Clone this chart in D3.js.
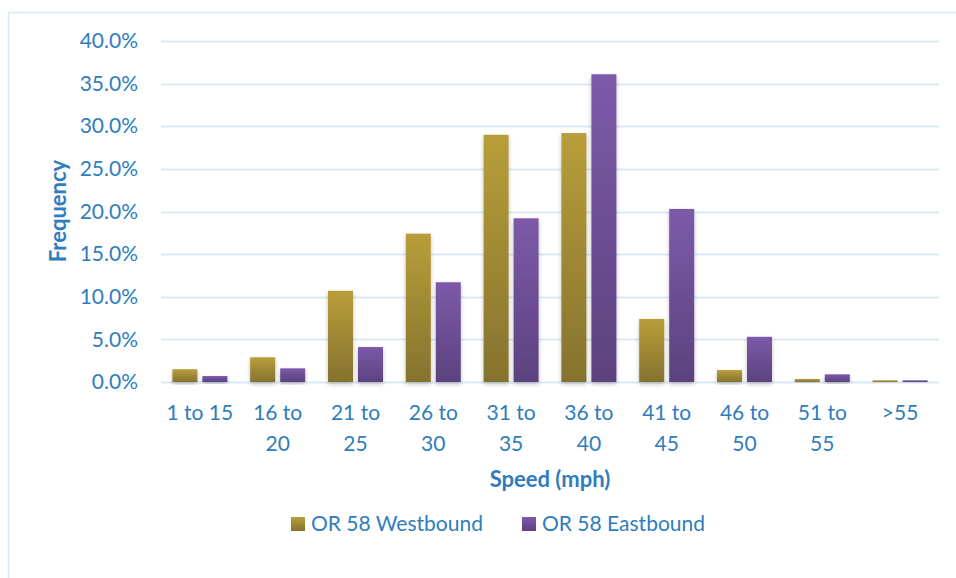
<!DOCTYPE html>
<html>
<head>
<meta charset="utf-8">
<script src="https://cdn.jsdelivr.net/npm/d3@7"></script>
<style>
  body { margin: 0; background: #fff; }
  text { font-family: Lato, "Open Sans", sans-serif; }
</style>
</head>
<body>
<div id="chart"></div>
<script>
// Speed bins and the share of vehicles in each
const categories = ["1 to 15", "16 to 20", "21 to 25", "26 to 30", "31 to 35", "36 to 40", "41 to 45", "46 to 50", "51 to 55", ">55"];
const westbound = [1.5, 2.9, 10.7, 17.4, 29.0, 29.2, 7.4, 1.4, 0.35, 0.2];
const eastbound = [0.7, 1.6, 4.1, 11.7, 19.2, 36.1, 20.3, 5.3, 0.9, 0.2];
const seriesNames = ["OR 58 Westbound", "OR 58 Eastbound"];
const yTicks = [0, 5, 10, 15, 20, 25, 30, 35, 40];

const width = 956, height = 578;
const textColor = "#2f7dbd";
const fontSize = "21px";

const svg = d3.select("#chart").append("svg")
    .attr("width", width)
    .attr("height", height);

const defs = svg.append("defs");

// vertical gradients like the Office bars
function addGradient(id, top, bottom) {
    const g = defs.append("linearGradient")
        .attr("id", id)
        .attr("x1", 0).attr("y1", 0).attr("x2", 0).attr("y2", 1);
    g.append("stop").attr("offset", "0%").attr("stop-color", top);
    g.append("stop").attr("offset", "100%").attr("stop-color", bottom);
}
addGradient("gradWest", "#b89e3a", "#85722e");
addGradient("gradEast", "#7c5aa9", "#5c427e");

const shadow = defs.append("filter")
    .attr("id", "shadow")
    .attr("x", "-30%").attr("y", "-10%").attr("width", "160%").attr("height", "130%");
shadow.append("feDropShadow")
    .attr("dx", 0).attr("dy", 2)
    .attr("stdDeviation", 2)
    .attr("flood-color", "#000")
    .attr("flood-opacity", 0.25);

// chart border
svg.append("rect")
    .attr("x", 8.5).attr("y", 12.5)
    .attr("width", 960).attr("height", 600)
    .attr("fill", "none")
    .attr("stroke", "#dbe8f5")
    .attr("stroke-width", 1.5);

const plot = { left: 161, right: 939, top: 41, bottom: 382 };

const x = d3.scaleBand()
    .domain(categories)
    .range([plot.left, plot.right]);

const y = d3.scaleLinear()
    .domain([0, 40])
    .range([plot.bottom, plot.top]);

const xInner = d3.scaleBand()
    .domain(seriesNames)
    .range([0, x.bandwidth()])
    .paddingInner(0.167)
    .paddingOuter(0.38);

// gridlines
svg.append("g")
    .selectAll("line")
    .data(yTicks)
    .join("line")
    .attr("x1", plot.left)
    .attr("x2", plot.right)
    .attr("y1", d => Math.round(y(d)) + 0.5)
    .attr("y2", d => Math.round(y(d)) + 0.5)
    .attr("stroke", "#dce9f6")
    .attr("stroke-width", 2);

// y axis labels
const yAxis = svg.append("g")
    .attr("transform", `translate(${plot.left - 15},0)`)
    .call(d3.axisLeft(y).tickValues(yTicks).tickFormat(d => d.toFixed(1) + "%").tickSize(0).tickPadding(8));
yAxis.select(".domain").remove();
yAxis.selectAll("text")
    .attr("fill", textColor)
    .style("font-size", fontSize)
    .style("font-family", "Lato, 'Open Sans', sans-serif");

// bars
const rows = categories.map((c, i) => ({ cat: c, values: [westbound[i], eastbound[i]] }));
const groups = svg.append("g")
    .selectAll("g")
    .data(rows)
    .join("g")
    .attr("transform", d => `translate(${x(d.cat)},0)`);

groups.selectAll("rect")
    .data(d => d.values.map((v, j) => ({ name: seriesNames[j], value: v, j })))
    .join("rect")
    .attr("x", d => xInner(d.name))
    .attr("width", xInner.bandwidth())
    .attr("y", d => y(d.value))
    .attr("height", d => y(0) - y(d.value))
    .attr("fill", d => d.j === 0 ? "url(#gradWest)" : "url(#gradEast)")
    .attr("filter", "url(#shadow)");

// x axis labels (wrapped onto two lines)
const xAxis = svg.append("g")
    .attr("transform", `translate(0,${plot.bottom})`)
    .call(d3.axisBottom(x).tickSize(0).tickPadding(0));
xAxis.select(".domain").remove();
xAxis.selectAll("text").remove();
xAxis.selectAll(".tick").each(function(d) {
    const t = d3.select(this).append("text")
        .attr("fill", textColor)
        .attr("text-anchor", "middle")
        .style("font-size", fontSize);
    const parts = d.split(" to ");
    if (parts.length === 2 && d !== "1 to 15") {
        t.append("tspan").attr("x", 0).attr("y", 38).text(parts[0] + " to");
        t.append("tspan").attr("x", 0).attr("y", 69).text(parts[1]);
    } else {
        t.append("tspan").attr("x", 0).attr("y", 38).text(d);
    }
});

// axis titles
svg.append("text")
    .attr("x", (plot.left + plot.right) / 2)
    .attr("y", 487)
    .attr("text-anchor", "middle")
    .attr("fill", textColor)
    .style("font-size", "22px")
    .style("font-weight", "bold")
    .text("Speed (mph)");

svg.append("text")
    .attr("transform", "translate(66,211) rotate(-90)")
    .attr("text-anchor", "middle")
    .attr("fill", textColor)
    .style("font-size", "22px")
    .style("font-weight", "bold")
    .text("Frequency");

// legend
const legendPos = [291, 522];
const legend = svg.append("g")
    .selectAll("g")
    .data(seriesNames)
    .join("g")
    .attr("transform", (d, i) => `translate(${legendPos[i]},517)`);
legend.append("rect")
    .attr("width", 14).attr("height", 14)
    .attr("fill", (d, i) => i === 0 ? "url(#gradWest)" : "url(#gradEast)");
legend.append("text")
    .attr("x", 20).attr("y", 14)
    .attr("fill", textColor)
    .style("font-size", fontSize)
    .text(d => d);
</script>
</body>
</html>
